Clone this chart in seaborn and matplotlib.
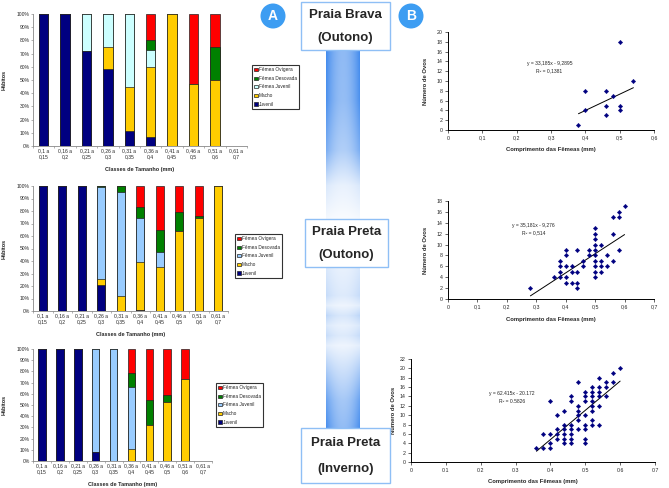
import numpy as np
import matplotlib
matplotlib.use("Agg")
import matplotlib.pyplot as plt
import seaborn as sns
from matplotlib.patches import Rectangle, Circle, Patch

sns.set_theme(style="ticks")
plt.rcParams["font.family"] = ["Liberation Sans", "DejaVu Sans"]

# ---------------- data ----------------
classes = ["0,1 a\n0,15", "0,16 a\n0,2", "0,21 a\n0,25", "0,26 a\n0,3", "0,31 a\n0,35",
           "0,36 a\n0,4", "0,41 a\n0,45", "0,46 a\n0,5", "0,51 a\n0,6", "0,61 a\n0,7"]
legend_names = ["Fêmea Ovígera", "Fêmea Desovada", "Fêmea Juvenil", "Macho", "Juvenil"]
pct_ticks = ["0%", "10%", "20%", "30%", "40%", "50%", "60%", "70%", "80%", "90%", "100%"]

# Praia Brava (Outono) - % per size class
brava_juv = [100, 100, 72, 58, 11, 7, 0, 0, 0, 0]
brava_macho = [0, 0, 0, 17, 34, 53, 100, 47, 50, 0]
brava_fjuv = [0, 0, 28, 25, 55, 13, 0, 0, 0, 0]
brava_fdes = [0, 0, 0, 0, 0, 7, 0, 0, 25, 0]
brava_fovi = [0, 0, 0, 0, 0, 20, 0, 53, 25, 0]

# Praia Preta (Outono)
preta_out_juv = [100, 100, 100, 21, 0, 1, 0, 0, 0, 0]
preta_out_macho = [0, 0, 0, 4.5, 12, 38, 35, 64, 74.5, 100]
preta_out_fjuv = [0, 0, 0, 73.5, 83, 35.5, 12.5, 0, 0, 0]
preta_out_fdes = [0, 0, 0, 1, 5, 8.5, 17.5, 15, 1.5, 0]
preta_out_fovi = [0, 0, 0, 0, 0, 17, 35, 21, 24, 0]

# Praia Preta (Inverno)
preta_inv_juv = [100, 100, 100, 8, 0, 0, 0, 0, 0, 0]
preta_inv_macho = [0, 0, 0, 0, 0, 11, 32, 52.5, 73, 0]
preta_inv_fjuv = [0, 0, 0, 92, 100, 55, 0, 0, 0, 0]
preta_inv_fdes = [0, 0, 0, 0, 0, 13, 22.5, 6.5, 0, 0]
preta_inv_fovi = [0, 0, 0, 0, 0, 21, 45.5, 41, 27, 0]

# egg number vs female length
brava_len = [0.38, 0.40, 0.40, 0.46, 0.46, 0.46, 0.48, 0.50, 0.50, 0.50, 0.54]
brava_ovos = [1, 8, 4, 8, 5, 3, 7, 18, 5, 4, 10]
brava_fit = (33.185, -9.2895)

preta_out_len = [0.28, 0.36, 0.38, 0.38, 0.38, 0.38, 0.40, 0.40, 0.40, 0.40, 0.40,
                 0.42, 0.42, 0.42, 0.44, 0.44, 0.44, 0.44, 0.46, 0.46, 0.48, 0.48,
                 0.50, 0.50, 0.50, 0.50, 0.50, 0.50, 0.50, 0.50, 0.50, 0.50,
                 0.52, 0.52, 0.52, 0.52, 0.54, 0.54, 0.56, 0.56, 0.56, 0.58, 0.58, 0.58, 0.60]
preta_out_ovos = [2, 4, 4, 5, 6, 7, 9, 8, 6, 4, 3,
                  6, 5, 3, 9, 5, 3, 2, 7, 6, 9, 8,
                  13, 12, 11, 10, 9, 8, 7, 6, 5, 4,
                  10, 7, 6, 5, 8, 6, 15, 12, 7, 16, 15, 9, 17]
preta_out_fit = (35.181, -9.276)

preta_inv_len = [0.36, 0.38, 0.38, 0.40, 0.40, 0.40, 0.40, 0.42, 0.42, 0.42, 0.42,
                 0.44, 0.44, 0.44, 0.44, 0.44, 0.44, 0.46, 0.46, 0.46, 0.46, 0.46, 0.46, 0.46,
                 0.48, 0.48, 0.48, 0.48, 0.48, 0.48, 0.50, 0.50, 0.50, 0.50, 0.50, 0.50, 0.50, 0.50,
                 0.52, 0.52, 0.52, 0.52, 0.52, 0.52, 0.52, 0.52, 0.54, 0.54, 0.54, 0.54, 0.54, 0.54,
                 0.56, 0.56, 0.56, 0.58, 0.58, 0.60]
preta_inv_ovos = [3, 3, 6, 6, 4, 3, 13, 10, 7, 6, 5,
                  11, 8, 7, 6, 5, 4, 14, 13, 8, 7, 6, 5, 4,
                  17, 12, 11, 10, 9, 7, 15, 14, 13, 10, 8, 7, 5, 4,
                  16, 15, 14, 13, 12, 11, 9, 8, 18, 16, 15, 14, 12, 8,
                  17, 16, 14, 19, 17, 20]
preta_inv_fit = (62.415, -20.172)

ticks_comma_06 = ["0", "0,1", "0,2", "0,3", "0,4", "0,5", "0,6"]
ticks_comma_07 = ["0", "0,1", "0,2", "0,3", "0,4", "0,5", "0,6", "0,7"]
ticks_dot_07 = ["0", "0.1", "0.2", "0.3", "0.4", "0.5", "0.6", "0.7"]

W, H = 669, 488
fig = plt.figure(figsize=(W / 100, H / 100), dpi=100)


def rect(x0, y0, x1, y1):
    # pixel box -> figure fraction
    return [x0 / W, 1 - y1 / H, (x1 - x0) / W, (y1 - y0) / H]


col_juv, col_macho, col_fdes, col_fovi = "#000080", "#FFCC00", "#008000", "#FF0000"


def stacked(box, layers, fjuv_color, legend_xy, xlab_pad):
    ax = fig.add_axes(rect(*box))
    colors = [col_juv, col_macho, fjuv_color, col_fdes, col_fovi]
    cums = np.cumsum(np.array(layers, dtype=float), axis=0)
    for i in range(len(layers) - 1, -1, -1):
        sns.barplot(x=classes, y=cums[i], color=colors[i], saturation=1, width=0.43,
                    edgecolor="#222222", linewidth=0.5, ax=ax)
    ax.set_ylim(0, 100)
    ax.set_xlim(-0.5, 9.5)
    ax.set_yticks(range(0, 101, 10))
    ax.set_yticklabels(pct_ticks, fontsize=3.6)
    ax.tick_params(axis="y", length=1.5, width=0.4, pad=1, color="#777777")
    ax.tick_params(axis="x", labelsize=3.6, length=0, pad=2)
    ax.set_xticks(np.arange(-0.5, 10, 1), minor=True)
    ax.tick_params(axis="x", which="minor", length=1.5, width=0.4, color="#777777")
    sns.despine(ax=ax)
    for s in ("left", "bottom"):
        ax.spines[s].set_color("#888888")
        ax.spines[s].set_linewidth(0.6)
    ax.set_xlabel("Classes de Tamanho (mm)", fontsize=4, fontweight="bold", labelpad=xlab_pad)
    ax.set_ylabel("Hábitos", fontsize=4, fontweight="bold")
    ax.yaxis.set_label_coords((7 - box[0]) / (box[2] - box[0]), 0.5)
    handles = [Patch(facecolor=c, edgecolor="#222222", linewidth=0.5)
               for c in [col_fovi, col_fdes, fjuv_color, col_macho, col_juv]]
    leg = ax.legend(handles, legend_names, loc="upper left",
                    bbox_to_anchor=(legend_xy[0] / W, 1 - legend_xy[1] / H),
                    bbox_transform=fig.transFigure, fontsize=3.4, frameon=True,
                    fancybox=False, shadow=False, handlelength=0.7, handleheight=0.7,
                    handletextpad=0.3, labelspacing=0.75, borderpad=0.5, borderaxespad=0)
    leg.get_frame().set_edgecolor("black")
    leg.get_frame().set_linewidth(0.8)
    return ax


stacked((33, 14, 247, 146),
        [brava_juv, brava_macho, brava_fjuv, brava_fdes, brava_fovi],
        "#CCFFFF", (252, 65), 5)
stacked((33, 186, 228, 311),
        [preta_out_juv, preta_out_macho, preta_out_fjuv, preta_out_fdes, preta_out_fovi],
        "#99CCFF", (235, 234), 5)
stacked((33, 349, 212, 461),
        [preta_inv_juv, preta_inv_macho, preta_inv_fjuv, preta_inv_fdes, preta_inv_fovi],
        "#99CCFF", (216, 383), 5)


def scatter(box, xs, ys, fit, xmax, ymax, xlabels, eq_lines, eq_xy, ylab_x):
    ax = fig.add_axes(rect(*box))
    sns.scatterplot(x=xs, y=ys, marker="D", s=5, color="#000080", edgecolor="#000080",
                    linewidth=0.3, ax=ax, zorder=3)
    lx = np.array([min(xs), max(xs)])
    sns.lineplot(x=lx, y=fit[0] * lx + fit[1], color="black", linewidth=0.7, ax=ax)
    ax.set_xlim(0, xmax)
    ax.set_ylim(0, ymax)
    ax.set_xticks(np.arange(len(xlabels)) * 0.1)
    ax.set_xticklabels(xlabels, fontsize=3.8)
    ax.set_yticks(range(0, ymax + 1, 2))
    ax.set_yticklabels([str(v) for v in range(0, ymax + 1, 2)], fontsize=3.8)
    ax.tick_params(length=2, width=0.5, pad=2)
    sns.despine(ax=ax)
    for s in ("left", "bottom"):
        ax.spines[s].set_linewidth(0.7)
        ax.spines[s].set_color("black")
    ax.set_xlabel("Comprimento das Fêmeas (mm)", fontsize=4.2, fontweight="bold", labelpad=5)
    ax.set_ylabel("Número de Ovos", fontsize=4.2, fontweight="bold")
    ax.yaxis.set_label_coords((ylab_x - box[0]) / (box[2] - box[0]), 0.5)
    ax.text(eq_xy[0], eq_xy[1], eq_lines, fontsize=3.6, ha="center", va="center",
            linespacing=1.6)
    return ax


scatter((448, 32, 654, 130), brava_len, brava_ovos, brava_fit, 0.6, 20, ticks_comma_06,
        "y = 33,185x - 9,2895\nR² = 0,1381", (0.295, 12.8), 428)
scatter((448, 201, 654, 299), preta_out_len, preta_out_ovos, preta_out_fit, 0.7, 18,
        ticks_comma_07, "y = 35,181x - 9,276\nR² = 0,514", (0.29, 12.9), 428)
scatter((411, 359, 655, 462), preta_inv_len, preta_inv_ovos, preta_inv_fit, 0.7, 22,
        ticks_dot_07, "y = 62.415x - 20.172\nR² = 0.5826", (0.29, 13.8), 396)

# ---------------- centre column decoration ----------------
ov = fig.add_axes([0, 0, 1, 1])
ov.patch.set_visible(False)
ov.set_xlim(0, W)
ov.set_ylim(H, 0)
ov.axis("off")

gy = np.arange(48, 432)
vprof = np.interp(gy, [48, 100, 150, 185, 219, 267, 295, 305, 315, 325, 335, 345, 370, 400, 432],
                  [1, 0.95, 0.7, 0.2, 0.05, 0.2, 0.3, 0.15, 0.35, 0.2, 0.3, 0.15, 0.45, 0.8, 1])
hx = np.linspace(-1, 1, 34)
hprof = 0.6 + 0.4 * hx ** 2
alpha = vprof[:, None] * hprof[None, :]
blue = np.array([0.27, 0.55, 0.93])
img = 1 - alpha[..., None] * (1 - blue)
ov.imshow(img, extent=[326, 360, 432, 48], aspect="auto", zorder=1)

boxes = [((301, 2, 390, 50), "Praia Brava", "(Outono)"),
         ((305, 219, 388, 267), "Praia Preta", "(Outono)"),
         ((301, 428, 390, 483), "Praia Preta", "(Inverno)")]
for (x0, y0, x1, y1), l1, l2 in boxes:
    ov.add_patch(Rectangle((x0, y0), x1 - x0, y1 - y0, facecolor="white",
                           edgecolor="#8fbff5", linewidth=1.0, zorder=2))
    h = y1 - y0
    ov.text((x0 + x1) / 2, y0 + h * 0.27, l1, fontsize=9.5, fontweight="bold",
            ha="center", va="center", zorder=3)
    ov.text((x0 + x1) / 2, y0 + h * 0.75, l2, fontsize=9.5, fontweight="bold",
            ha="center", va="center", zorder=3)

for cx, letter in [(273, "A"), (411, "B")]:
    ov.add_patch(Circle((cx, 16), 12.5, facecolor="#3d9df2", edgecolor="none", zorder=2))
    ov.text(cx, 16.5, letter, color="white", fontsize=10, fontweight="bold",
            ha="center", va="center", zorder=3)

fig.savefig("out.png", dpi=100)
